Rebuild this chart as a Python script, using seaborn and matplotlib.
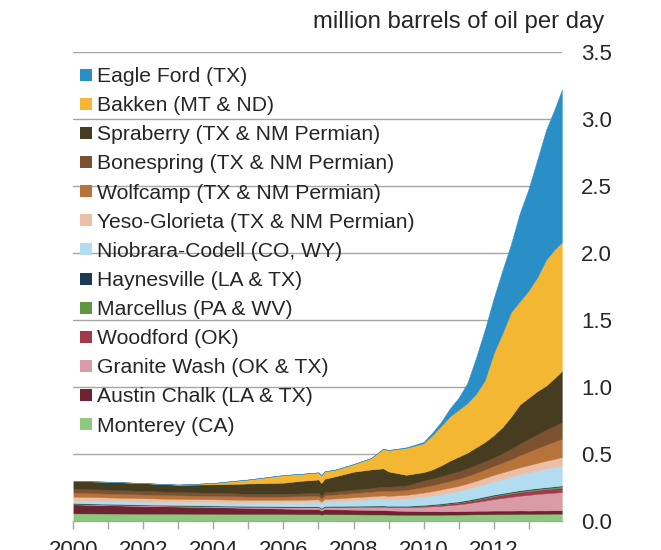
import numpy as np
import matplotlib
matplotlib.use("Agg")
import matplotlib.pyplot as plt
from matplotlib.lines import Line2D
import seaborn as sns

# decimal years of the sampled points
dates = [2000.0, 2001.0, 2002.0, 2003.0, 2004.0, 2005.0, 2006.0, 2006.5,
         2007.0, 2007.08, 2007.17, 2007.5, 2008.0, 2008.5, 2008.85, 2009.0,
         2009.5, 2010.0, 2010.25, 2010.5, 2010.75, 2011.0, 2011.25, 2011.5,
         2011.75, 2012.0, 2012.25, 2012.5, 2012.75, 2013.0, 2013.25, 2013.5,
         2013.75, 2013.95]

# million barrels of oil per day, by play
monterey = [0.057, 0.056, 0.055, 0.055, 0.054, 0.053, 0.053, 0.052, 0.052, 0.048, 0.052, 0.051,
            0.050, 0.049, 0.049, 0.048, 0.047, 0.047, 0.047, 0.047, 0.048, 0.048, 0.049, 0.050,
            0.050, 0.051, 0.052, 0.052, 0.053, 0.053, 0.054, 0.054, 0.055, 0.055]
austin_chalk = [0.067, 0.062, 0.057, 0.053, 0.050, 0.045, 0.040, 0.038, 0.037, 0.030, 0.037, 0.036,
                0.035, 0.034, 0.033, 0.031, 0.029, 0.027, 0.027, 0.026, 0.026, 0.026, 0.026, 0.027,
                0.027, 0.027, 0.026, 0.026, 0.026, 0.025, 0.025, 0.025, 0.025, 0.025]
granite_wash = [0.004, 0.004, 0.005, 0.005, 0.006, 0.008, 0.010, 0.012, 0.014, 0.012, 0.015, 0.017,
                0.020, 0.023, 0.025, 0.025, 0.027, 0.032, 0.036, 0.040, 0.045, 0.050, 0.057, 0.065,
                0.075, 0.085, 0.094, 0.102, 0.110, 0.117, 0.123, 0.128, 0.132, 0.136]
woodford = [0.002, 0.002, 0.002, 0.002, 0.002, 0.002, 0.003, 0.003, 0.003, 0.003, 0.003, 0.004,
            0.004, 0.005, 0.005, 0.005, 0.006, 0.008, 0.009, 0.010, 0.012, 0.013, 0.015, 0.017,
            0.020, 0.022, 0.024, 0.026, 0.028, 0.029, 0.030, 0.031, 0.032, 0.033]
marcellus = [0.001, 0.001, 0.001, 0.001, 0.001, 0.001, 0.001, 0.001, 0.001, 0.001, 0.001, 0.001,
             0.001, 0.001, 0.001, 0.001, 0.001, 0.002, 0.002, 0.003, 0.003, 0.004, 0.004, 0.005,
             0.005, 0.006, 0.006, 0.007, 0.007, 0.008, 0.008, 0.009, 0.009, 0.010]
haynesville = [0.003, 0.003, 0.003, 0.003, 0.003, 0.003, 0.003, 0.003, 0.003, 0.003, 0.003, 0.003,
               0.003, 0.003, 0.003, 0.003, 0.003, 0.004, 0.004, 0.005, 0.005, 0.005, 0.006, 0.006,
               0.006, 0.006, 0.006, 0.006, 0.006, 0.006, 0.006, 0.006, 0.006, 0.006]
niobrara = [0.020, 0.021, 0.022, 0.023, 0.025, 0.027, 0.030, 0.032, 0.034, 0.030, 0.035, 0.038,
            0.043, 0.047, 0.050, 0.050, 0.055, 0.062, 0.066, 0.070, 0.074, 0.078, 0.083, 0.088,
            0.094, 0.100, 0.106, 0.112, 0.118, 0.124, 0.131, 0.138, 0.144, 0.149]
yeso = [0.028, 0.027, 0.025, 0.023, 0.021, 0.019, 0.018, 0.018, 0.018, 0.016, 0.018, 0.019,
        0.021, 0.023, 0.025, 0.025, 0.027, 0.030, 0.032, 0.034, 0.036, 0.038, 0.040, 0.042,
        0.045, 0.047, 0.049, 0.051, 0.053, 0.055, 0.057, 0.059, 0.061, 0.063]
wolfcamp = [0.030, 0.029, 0.028, 0.027, 0.026, 0.025, 0.025, 0.026, 0.027, 0.024, 0.028, 0.029,
            0.032, 0.034, 0.036, 0.036, 0.036, 0.043, 0.045, 0.047, 0.050, 0.053, 0.056, 0.059,
            0.062, 0.066, 0.072, 0.080, 0.090, 0.100, 0.110, 0.120, 0.130, 0.137]
bonespring = [0.030, 0.029, 0.027, 0.025, 0.023, 0.021, 0.020, 0.021, 0.022, 0.019, 0.023, 0.024,
              0.025, 0.027, 0.030, 0.032, 0.034, 0.046, 0.049, 0.052, 0.054, 0.056, 0.058, 0.060,
              0.062, 0.064, 0.070, 0.078, 0.088, 0.096, 0.104, 0.112, 0.118, 0.124]
spraberry = [0.058, 0.059, 0.058, 0.053, 0.063, 0.076, 0.083, 0.094, 0.099, 0.097, 0.100, 0.113,
             0.134, 0.139, 0.136, 0.114, 0.080, 0.064, 0.068, 0.081, 0.097, 0.109, 0.116, 0.131,
             0.144, 0.166, 0.195, 0.240, 0.291, 0.307, 0.322, 0.328, 0.358, 0.382]
bakken = [0.000, 0.000, 0.000, 0.002, 0.010, 0.030, 0.057, 0.052, 0.053, 0.057, 0.055, 0.050,
          0.057, 0.085, 0.147, 0.160, 0.200, 0.215, 0.255, 0.295, 0.330, 0.350, 0.370, 0.400,
          0.460, 0.610, 0.700, 0.780, 0.770, 0.800, 0.850, 0.940, 0.960, 0.960]
eagle_ford = [0.000, 0.000, 0.000, 0.000, 0.000, 0.000, 0.000, 0.000, 0.000, 0.000, 0.000, 0.000,
              0.000, 0.000, 0.000, 0.000, 0.005, 0.010, 0.020, 0.030, 0.060, 0.090, 0.150, 0.270,
              0.380, 0.410, 0.470, 0.510, 0.660, 0.760, 0.880, 0.970, 1.050, 1.140]

# bottom to top
series = [monterey, austin_chalk, granite_wash, woodford, marcellus, haynesville,
          niobrara, yeso, wolfcamp, bonespring, spraberry, bakken, eagle_ford]
labels = ["Monterey (CA)", "Austin Chalk (LA & TX)", "Granite Wash (OK & TX)",
          "Woodford (OK)", "Marcellus (PA & WV)", "Haynesville (LA & TX)",
          "Niobrara-Codell (CO, WY)", "Yeso-Glorieta (TX & NM Permian)",
          "Wolfcamp (TX & NM Permian)", "Bonespring (TX & NM Permian)",
          "Spraberry (TX & NM Permian)", "Bakken (MT & ND)", "Eagle Ford (TX)"]
colors = ["#8CC97D", "#6D2331", "#D99BA6", "#A13B4C", "#5E9740", "#1D3A54",
          "#B2DDF1", "#EBBFA5", "#B8733B", "#7C5130", "#463C1F", "#F4B733", "#2B8FC7"]

sns.set_theme(style="white")
plt.rcParams["font.family"] = ["Liberation Sans", "DejaVu Sans"]

fig = plt.figure(figsize=(6.61, 5.50), dpi=100)
ax = fig.add_axes([0.111, 0.0527, 0.739, 0.8527])

ax.stackplot(dates, *series, colors=colors, linewidth=0.3, edgecolor="face", zorder=2)

ax.set_xlim(2000.0, 2013.95)
ax.set_ylim(0, 3.5)

# gridlines
for yv in [0.5, 1.0, 1.5, 2.0, 2.5, 3.0, 3.5]:
    ax.axhline(yv, color="#A6A6A6", lw=1.0, zorder=1)

for s in ["top", "right", "left"]:
    ax.spines[s].set_visible(False)
ax.spines["bottom"].set_color("#A6A6A6")
ax.spines["bottom"].set_linewidth(1.0)
ax.spines["bottom"].set_zorder(3)

years = list(range(2000, 2014))
ax.set_xticks(years)
ax.set_xticklabels([str(y) if y % 2 == 0 else "" for y in years])
ax.tick_params(axis="x", direction="out", length=5.5, width=1.0, color="#A6A6A6",
               pad=8.5, labelsize=16, bottom=True)

ax.yaxis.tick_right()
ax.set_yticks([0, 0.5, 1.0, 1.5, 2.0, 2.5, 3.0, 3.5])
ax.set_yticklabels(["0.0", "0.5", "1.0", "1.5", "2.0", "2.5", "3.0", "3.5"])
ax.tick_params(axis="y", length=0, pad=14, labelsize=16)

fig.text(604 / 661, 1 - 28.3 / 550, "million barrels of oil per day",
         ha="right", va="baseline", fontsize=17.2)

handles = [Line2D([], [], marker="s", linestyle="", markersize=8,
                  markerfacecolor=c, markeredgewidth=0) for c in colors[::-1]]
ax.legend(handles, labels[::-1], loc="upper left",
          bbox_to_anchor=(78 / 661, 1 - 67 / 550), bbox_transform=fig.transFigure,
          frameon=False, fontsize=15.2, handlelength=0.8, handletextpad=0.1,
          labelspacing=0.48, borderpad=0, borderaxespad=0)

fig.savefig("out.png", dpi=100)
